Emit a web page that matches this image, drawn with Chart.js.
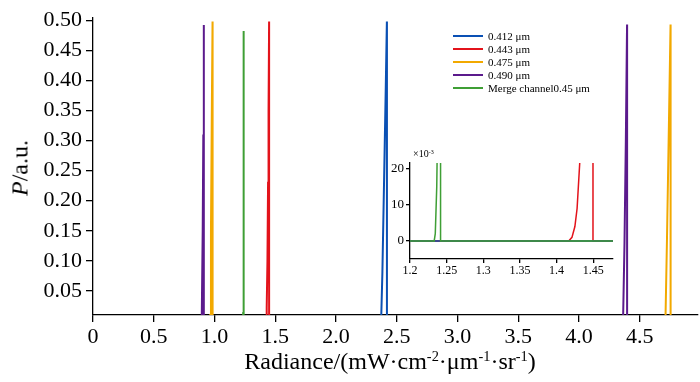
<!DOCTYPE html>
<html>
<head>
<meta charset="utf-8">
<script src="https://cdn.jsdelivr.net/npm/chart.js@4.4.1/dist/chart.umd.min.js"></script>
<style>
html, body { margin: 0; padding: 0; background: #fff; }
#wrap { position: relative; width: 700px; height: 382px; font-family: "Liberation Serif", "Times New Roman", serif; color: #000; }
#main { position: absolute; left: 0; top: 0; }
#inset { position: absolute; left: 360px; top: 145px; }
#xtitle { position: absolute; left: 75px; width: 630px; top: 347px; text-align: center; font-size: 24px; line-height: 28px; white-space: nowrap; }
#ytitle { position: absolute; left: 20px; top: 168px; font-size: 24px; white-space: nowrap; transform: translate(-50%, -50%) rotate(-90deg); }
sup { font-size: 0.6em; line-height: 0; vertical-align: 0.55em; }
#exp { position: absolute; left: 413px; top: 148px; font-size: 10px; white-space: nowrap; }
#legend { position: absolute; left: 453px; top: 30px; font-size: 11px; }
#legend .row { height: 13px; line-height: 13px; white-space: nowrap; }
#legend .swatch { display: inline-block; width: 30px; height: 2px; vertical-align: middle; margin-right: 5px; position: relative; top: -1px; }
</style>
</head>
<body>
<div id="wrap">
  <canvas id="main" width="700" height="382"></canvas>
  <canvas id="inset" width="260" height="140"></canvas>
  <div id="ytitle"><i>P</i>/a.u.</div>
  <div id="xtitle">Radiance/(mW·cm<sup>-2</sup>·μm<sup>-1</sup>·sr<sup>-1</sup>)</div>
  <div id="exp">×10<sup>-3</sup></div>
  <div id="legend"></div>
</div>
<script>
// series labels and colours, legend order
const seriesNames = ["0.412 μm", "0.443 μm", "0.475 μm", "0.490 μm", "Merge channel0.45 μm"];
const seriesColors = ["#0a50b4", "#e3131b", "#f2a900", "#5b1a8c", "#3f9f35"];

// 0.412 um
const blueX = [0, 2.355, 2.365, 2.373, 2.382, 2.392, 2.401, 2.410, 2.419, 2.4195, 4.98];
const blueY = [0, 0, 0.003, 0.01, 0.08, 0.19, 0.29, 0.39, 0.498, 0, 0];
// 0.443 um
const redX = [0, 1.40, 1.4166, 1.421, 1.425, 1.428, 1.4316, 1.436, 1.441, 1.445, 1.4495, 1.4497, 4.98];
const redY = [0, 0, 0, 0.001, 0.004, 0.009, 0.0216, 0.10, 0.23, 0.35, 0.498, 0, 0];
// 0.475 um (two peaks)
const yellowX = [0, 0.950, 0.958, 0.965, 0.971, 0.977, 0.984, 0.9845, 4.70, 4.707, 4.713, 4.725, 4.740, 4.754, 4.7545, 4.98];
const yellowY = [0, 0, 0.003, 0.01, 0.15, 0.32, 0.498, 0, 0, 0.004, 0.01, 0.14, 0.32, 0.493, 0, 0];
// 0.490 um (two peaks)
const purpleX = [0, 0.890, 0.894, 0.897, 0.903, 0.908, 0.912, 0.9125, 4.350, 4.358, 4.364, 4.375, 4.386, 4.396, 4.3965, 4.98];
const purpleY = [0, 0, 0.003, 0.01, 0.15, 0.31, 0.492, 0, 0, 0.005, 0.01, 0.13, 0.30, 0.493, 0, 0];
// merge channel 0.45 um
const greenX = [0, 1.233, 1.2345, 1.2365, 1.2375, 1.2395, 1.2415, 1.2417, 4.98];
const greenY = [0, 0, 0.002, 0.015, 0.03, 0.20, 0.482, 0, 0];

const seriesX = [blueX, redX, yellowX, purpleX, greenX];
const seriesY = [blueY, redY, yellowY, purpleY, greenY];

// axis ticks
const mainXTicks = [0, 0.5, 1.0, 1.5, 2.0, 2.5, 3.0, 3.5, 4.0, 4.5];
const mainYTicks = [0.05, 0.10, 0.15, 0.20, 0.25, 0.30, 0.35, 0.40, 0.45, 0.50];
const insetXTicks = [1.2, 1.25, 1.3, 1.35, 1.4, 1.45];
const insetYTicks = [0, 0.01, 0.02];

const FONT = "'Liberation Serif', 'Times New Roman', serif";

function buildDatasets(width) {
    return seriesNames.map((name, i) => ({
        label: name,
        data: seriesX[i].map((x, k) => ({ x: x, y: seriesY[i][k] })),
        borderColor: seriesColors[i],
        borderWidth: width,
        pointRadius: 0,
        tension: 0,
        fill: false,
        order: i === 4 ? -1 : i,
    }));
}

function axis(min, max, ticksList, fmt, size, tickLen, pad, fit) {
    return {
        type: "linear",
        min: min,
        max: max,
        afterFit: fit,
        afterBuildTicks: (s) => { s.ticks = ticksList.map(v => ({ value: v })); },
        border: { color: "#000", width: 1.3 },
        grid: { drawOnChartArea: false, drawTicks: true, tickLength: tickLen, color: "#000", lineWidth: 1.3 },
        ticks: {
            autoSkip: false, maxRotation: 0, padding: pad, color: "#000",
            font: { family: FONT, size: size },
            callback: fmt,
        },
    };
}

new Chart(document.getElementById("main"), {
    type: "line",
    data: { datasets: buildDatasets(2) },
    options: {
        responsive: false,
        animation: false,
        events: [],
        layout: { padding: { top: 17, right: 2, left: 0, bottom: 0 } },
        plugins: { legend: { display: false }, tooltip: { enabled: false } },
        scales: {
            x: axis(0, 4.98, mainXTicks, (v) => v === 0 ? "0" : v.toFixed(1), 22, 7, 2, (s) => { s.height = 67; }),
            y: axis(0.01, 0.505, mainYTicks, (v) => v.toFixed(2), 22, 7, 4, (s) => { s.width = 93; }),
        },
    },
});

new Chart(document.getElementById("inset"), {
    type: "line",
    data: { datasets: buildDatasets(1.5) },
    options: {
        responsive: false,
        animation: false,
        events: [],
        layout: { padding: { top: 18, right: 7, left: 0, bottom: 0 } },
        plugins: { legend: { display: false }, tooltip: { enabled: false } },
        scales: {
            x: axis(1.2, 1.477, insetXTicks, (v) => String(parseFloat(v.toFixed(2))), 12, 4, 1, (s) => { s.height = 26; }),
            y: axis(-0.005, 0.0216, insetYTicks, (v) => String(Math.round(v * 1000)), 13, 4, 2, (s) => { s.width = 50; }),
        },
    },
});

// legend
const legend = document.getElementById("legend");
seriesNames.forEach((name, i) => {
    const row = document.createElement("div");
    row.className = "row";
    const sw = document.createElement("span");
    sw.className = "swatch";
    sw.style.background = seriesColors[i];
    row.appendChild(sw);
    row.appendChild(document.createTextNode(name));
    legend.appendChild(row);
});
</script>
</body>
</html>
